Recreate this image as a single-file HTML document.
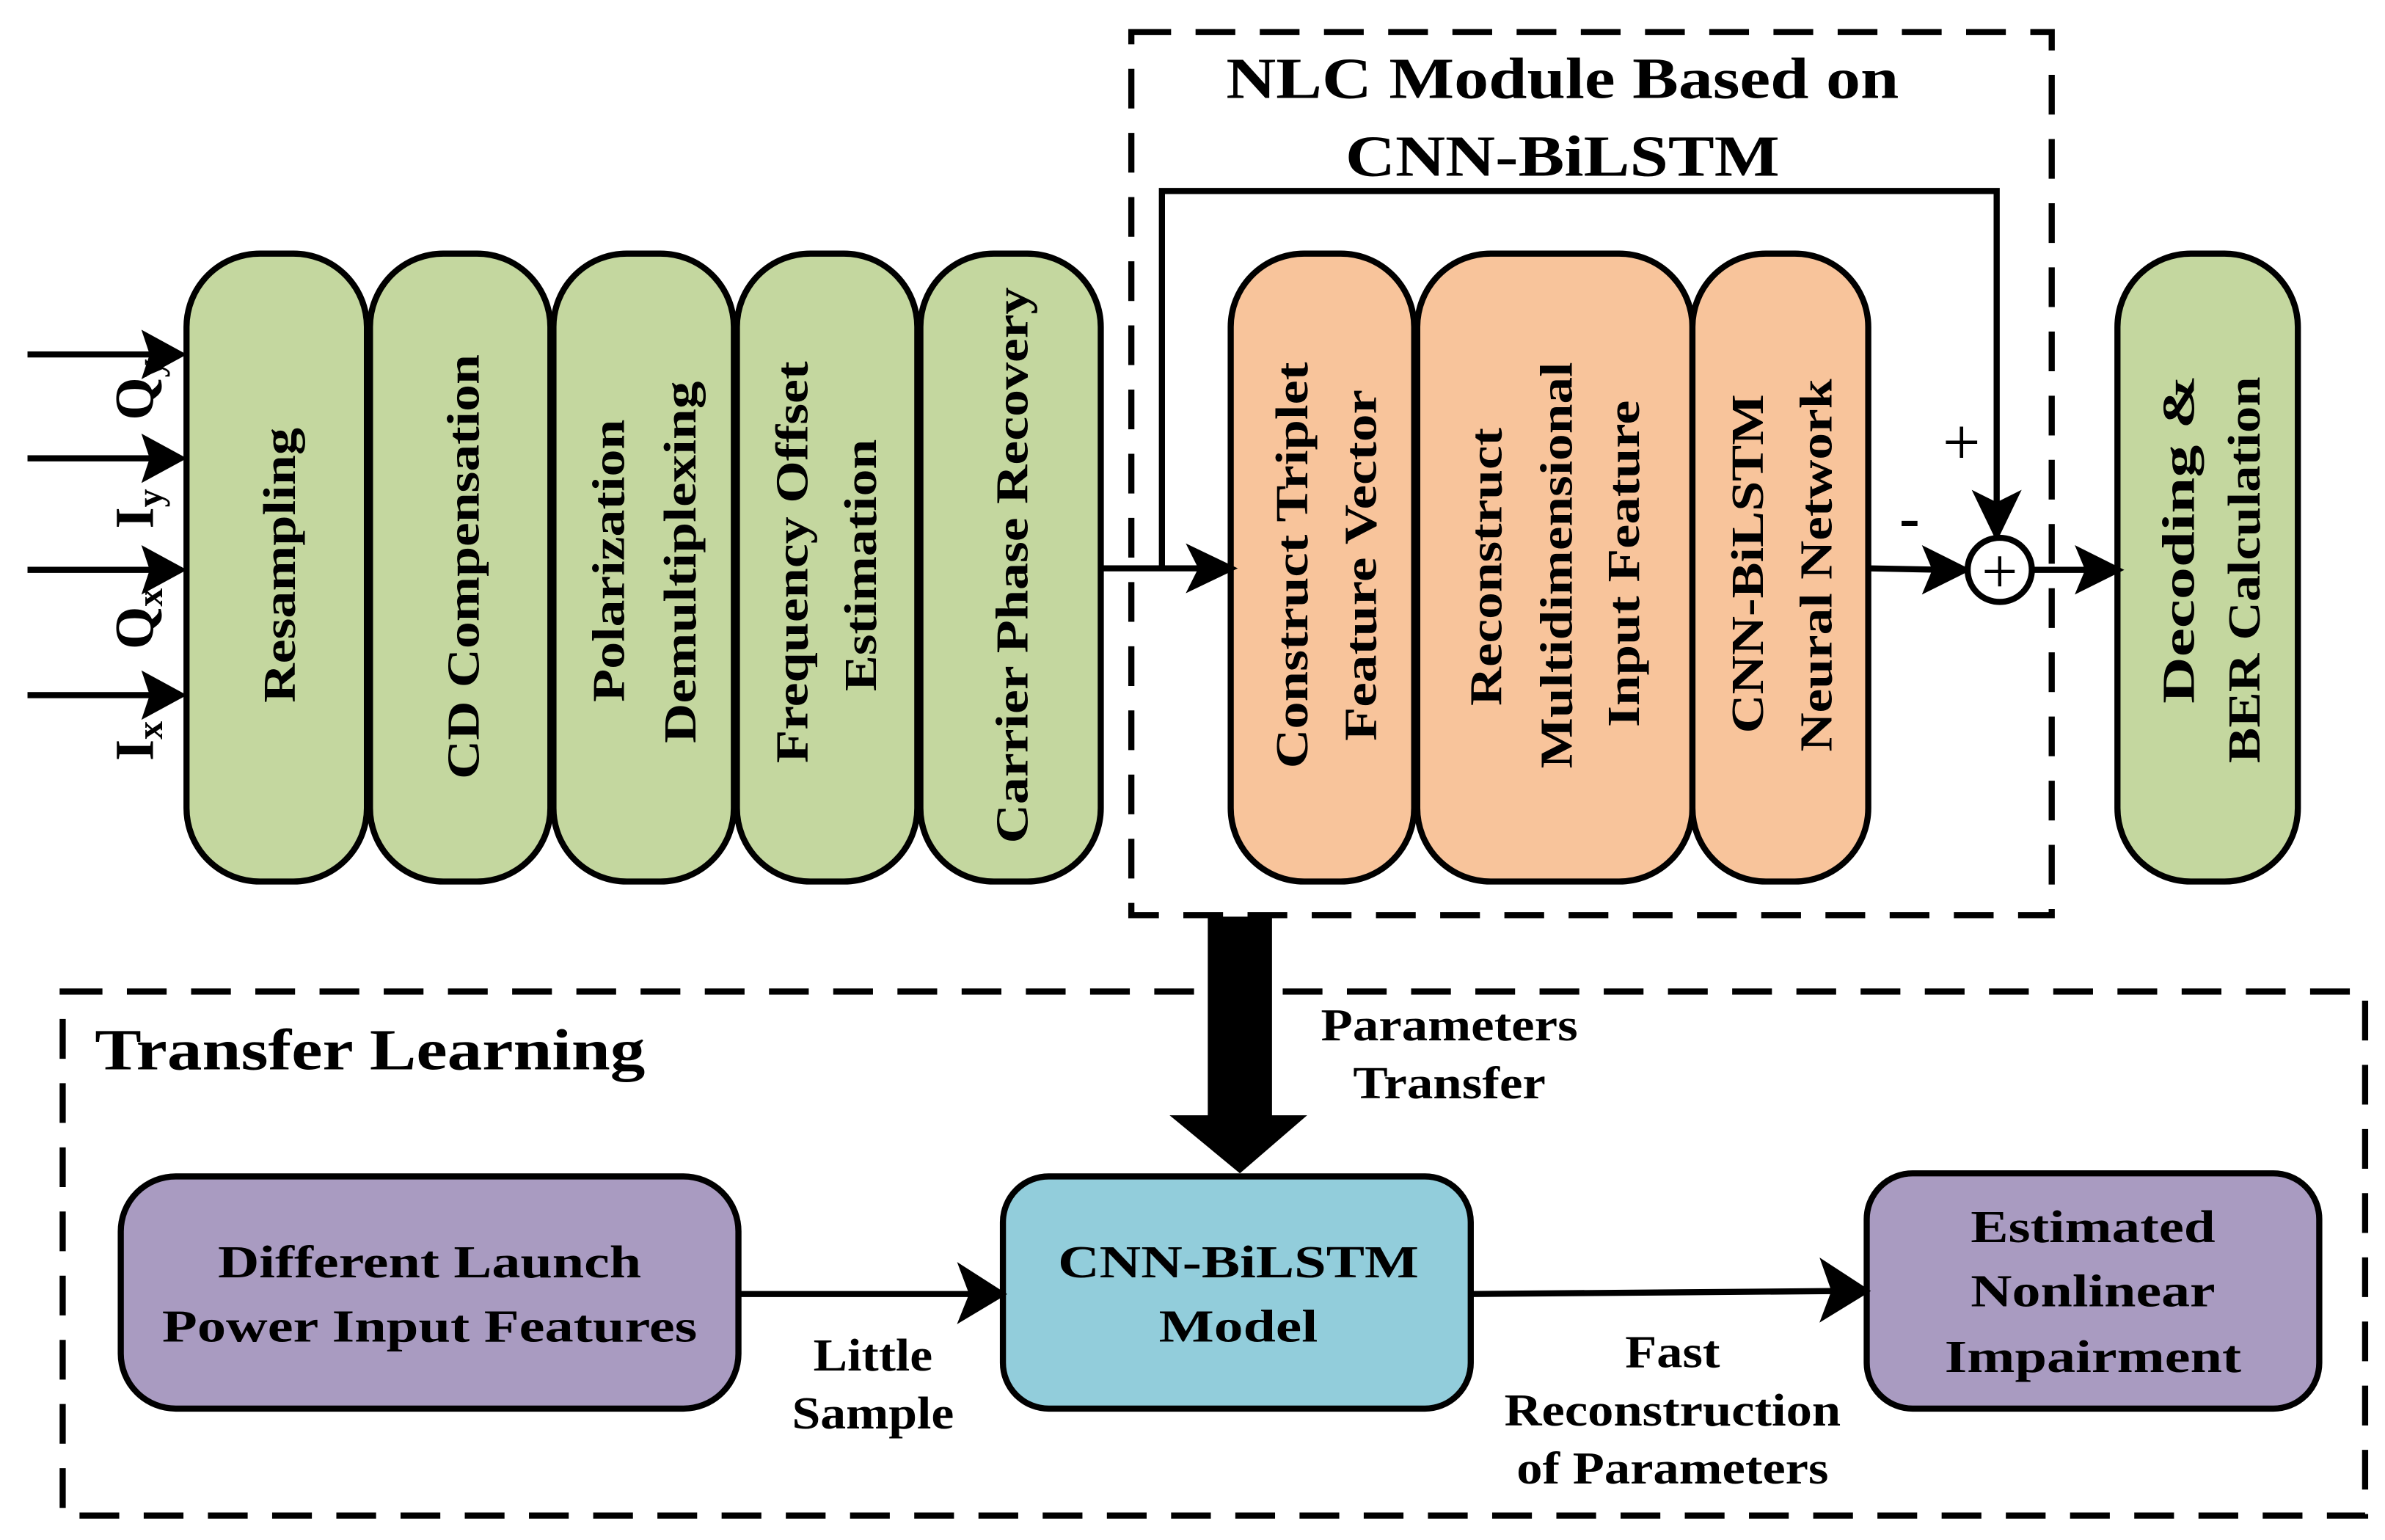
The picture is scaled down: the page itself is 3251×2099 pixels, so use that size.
<!DOCTYPE html>
<html><head><meta charset="utf-8"><style>
html,body{margin:0;padding:0;background:#fff;}
svg{display:block;}
text{font-family:"Liberation Serif","Times New Roman",serif;font-weight:bold;fill:#000;}
</style></head><body>
<svg width="3251" height="2099" viewBox="0 0 1560 1008" preserveAspectRatio="none" xmlns="http://www.w3.org/2000/svg">
<g stroke="#000" stroke-width="4">
<rect x="122" y="166" width="118" height="411" rx="48" fill="#c4d79f"/>
<rect x="242" y="166" width="118" height="411" rx="48" fill="#c4d79f"/>
<rect x="362" y="166" width="118" height="411" rx="48" fill="#c4d79f"/>
<rect x="482" y="166" width="118" height="411" rx="48" fill="#c4d79f"/>
<rect x="602" y="166" width="118" height="411" rx="48" fill="#c4d79f"/>
<rect x="1385" y="166" width="118" height="411" rx="48" fill="#c4d79f"/>
<rect x="805" y="166" width="120" height="411" rx="48" fill="#f8c49b"/>
<rect x="927" y="166" width="180" height="411" rx="48" fill="#f8c49b"/>
<rect x="1107" y="166" width="115" height="411" rx="48" fill="#f8c49b"/>
<rect x="79" y="770" width="404" height="152" rx="36" fill="#a99bc1"/>
<rect x="656" y="770" width="306" height="152" rx="30" fill="#92cddb"/>
<rect x="1221" y="768" width="296" height="154" rx="30" fill="#a99bc1"/>
</g>
<rect x="740" y="21" width="602" height="578" fill="none" stroke="#000" stroke-width="4" stroke-dasharray="26,16"/>
<rect x="41" y="649" width="1506" height="343" fill="none" stroke="#000" stroke-width="4" stroke-dasharray="26,16"/>
<g stroke="#000" stroke-width="4" fill="#000">
<line x1="18" y1="232" x2="105" y2="232"/><polygon points="118,232 96,220 100,232 96,244"/>
<line x1="18" y1="300" x2="105" y2="300"/><polygon points="118,300 96,288 100,300 96,312"/>
<line x1="18" y1="373" x2="105" y2="373"/><polygon points="118,373 96,361 100,373 96,385"/>
<line x1="18" y1="455" x2="105" y2="455"/><polygon points="118,455 96,443 100,455 96,467"/>
<line x1="720" y1="372" x2="792" y2="372"/><polygon points="805,372 780,360 786,372 780,384"/>
<polyline points="760,372 760,125 1306,125 1306,335" fill="none"/>
<polygon points="1306,350 1294,325 1306,331 1318,325"/>
<line x1="1222" y1="372" x2="1272" y2="373"/><polygon points="1285,373 1261,361 1266,373 1261,385"/>
<line x1="1330" y1="373" x2="1372" y2="373"/><polygon points="1385,373 1361,361 1366,373 1361,385"/>
<line x1="483" y1="847" x2="642" y2="847"/><polygon points="655,847 630,831 636,847 630,862"/>
<line x1="962" y1="847" x2="1206" y2="845"/><polygon points="1220,845 1194,828 1200,845 1194,861"/>
</g>
<circle cx="1308" cy="373" r="21" fill="#fff" stroke="#000" stroke-width="4"/>
<text x="1308" y="388" font-size="42" text-anchor="middle" style="font-weight:normal">+</text>
<rect x="790" y="600" width="42" height="132" fill="#000"/>
<polygon points="765,730 855,730 811,768" fill="#000"/>
<text x="1283" y="304" font-size="44" text-anchor="middle" style="font-weight:normal">+</text>
<text x="1249" y="352" font-size="40" text-anchor="middle">-</text>
<g font-size="36" style="font-weight:normal">
<text transform="translate(100,255) rotate(-90)" text-anchor="middle">Q<tspan font-size="24" dy="6">y</tspan></text>
<text transform="translate(100,333) rotate(-90)" text-anchor="middle">I<tspan font-size="24" dy="6">y</tspan></text>
<text transform="translate(100,405) rotate(-90)" text-anchor="middle">Q<tspan font-size="24" dy="6">x</tspan></text>
<text transform="translate(100,485) rotate(-90)" text-anchor="middle">I<tspan font-size="24" dy="6">x</tspan></text>
</g>
<g font-size="30" text-anchor="middle">
<text transform="translate(193,370) rotate(-90)" textLength="180" lengthAdjust="spacingAndGlyphs">Resampling</text>
<text transform="translate(313,371) rotate(-90)" textLength="278" lengthAdjust="spacingAndGlyphs">CD Compensation</text>
<text transform="translate(408,367) rotate(-90)" textLength="185" lengthAdjust="spacingAndGlyphs">Polarization</text>
<text transform="translate(455,368) rotate(-90)" textLength="237" lengthAdjust="spacingAndGlyphs">Demultiplexing</text>
<text transform="translate(528,368) rotate(-90)" textLength="263" lengthAdjust="spacingAndGlyphs">Frequency Offset</text>
<text transform="translate(573,370) rotate(-90)" textLength="165" lengthAdjust="spacingAndGlyphs">Estimation</text>
<text transform="translate(672,370) rotate(-90)" textLength="364" lengthAdjust="spacingAndGlyphs">Carrier Phase Recovery</text>
<text transform="translate(855,370) rotate(-90)" textLength="266" lengthAdjust="spacingAndGlyphs">Construct Triplet</text>
<text transform="translate(900,370) rotate(-90)" textLength="230" lengthAdjust="spacingAndGlyphs">Feature Vector</text>
<text transform="translate(982,371) rotate(-90)" textLength="182" lengthAdjust="spacingAndGlyphs">Reconstruct</text>
<text transform="translate(1028,370) rotate(-90)" textLength="266" lengthAdjust="spacingAndGlyphs">Multidimensional</text>
<text transform="translate(1072,369) rotate(-90)" textLength="214" lengthAdjust="spacingAndGlyphs">Input Feature</text>
<text transform="translate(1153,369) rotate(-90)" textLength="222" lengthAdjust="spacingAndGlyphs">CNN-BiLSTM</text>
<text transform="translate(1198,370) rotate(-90)" textLength="244" lengthAdjust="spacingAndGlyphs">Neural Network</text>
<text transform="translate(1435,353) rotate(-90)" textLength="215" lengthAdjust="spacingAndGlyphs">Decoding &amp;</text>
<text transform="translate(1478,373) rotate(-90)" textLength="253" lengthAdjust="spacingAndGlyphs">BER Calculation</text>
</g>
<text x="1022" y="64" font-size="38" text-anchor="middle" textLength="440" lengthAdjust="spacingAndGlyphs">NLC Module Based on</text>
<text x="1022" y="115" font-size="38" text-anchor="middle" textLength="284" lengthAdjust="spacingAndGlyphs">CNN-BiLSTM</text>
<text x="62" y="700" font-size="38" textLength="360" lengthAdjust="spacingAndGlyphs">Transfer Learning</text>
<g font-size="30" text-anchor="middle">
<text x="948" y="681" textLength="168" lengthAdjust="spacingAndGlyphs">Parameters</text>
<text x="948" y="719" textLength="126" lengthAdjust="spacingAndGlyphs">Transfer</text>
<text x="281" y="836" textLength="277" lengthAdjust="spacingAndGlyphs">Different Launch</text>
<text x="281" y="878" textLength="350" lengthAdjust="spacingAndGlyphs">Power Input Features</text>
<text x="810" y="836" textLength="236" lengthAdjust="spacingAndGlyphs">CNN-BiLSTM</text>
<text x="810" y="878" textLength="104" lengthAdjust="spacingAndGlyphs">Model</text>
<text x="1369" y="813" textLength="160" lengthAdjust="spacingAndGlyphs">Estimated</text>
<text x="1369" y="855" textLength="160" lengthAdjust="spacingAndGlyphs">Nonlinear</text>
<text x="1369" y="898" textLength="194" lengthAdjust="spacingAndGlyphs">Impairment</text>
<text x="571" y="897" textLength="78" lengthAdjust="spacingAndGlyphs">Little</text>
<text x="571" y="935" textLength="106" lengthAdjust="spacingAndGlyphs">Sample</text>
<text x="1094" y="895" textLength="62" lengthAdjust="spacingAndGlyphs">Fast</text>
<text x="1094" y="933" textLength="220" lengthAdjust="spacingAndGlyphs">Reconstruction</text>
<text x="1094" y="971" textLength="204" lengthAdjust="spacingAndGlyphs">of Parameters</text>
</g>
</svg>
</body></html>
